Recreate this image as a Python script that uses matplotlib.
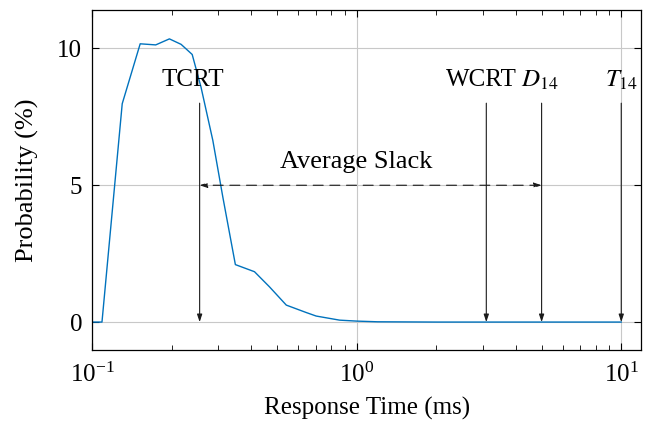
#!/usr/bin/env python3
"""Response-time distribution with TCRT / WCRT / deadline / period markers."""

import matplotlib
import matplotlib.pyplot as plt

matplotlib.use("Agg")

plt.rcParams["font.family"] = ["Liberation Serif", "DejaVu Serif"]
plt.rcParams["mathtext.fontset"] = "stix"

# Response-time distribution (ms, %)
resp_time = [0.09, 0.109, 0.130, 0.152, 0.174, 0.196, 0.217, 0.239, 0.258,
             0.286, 0.312, 0.348, 0.411, 0.468, 0.542, 0.644, 0.703, 0.862,
             1.0, 1.2, 2.0, 5.0, 10.0]
prob = [0.0, 0.0, 7.98, 10.17, 10.13, 10.35, 10.15, 9.78, 8.59,
        6.64, 4.57, 2.10, 1.84, 1.29, 0.62, 0.35, 0.22, 0.07,
        0.035, 0.01, 0.0, 0.0, 0.0]

marker_x = [0.255, 3.09, 5.0, 10.0]
marker_labels = ["TCRT", "WCRT", "$D_{14}$", "$T_{14}$"]
label_x = [0.24, 2.95, 4.92, 10.0]
arrow_top = 8.0
label_y = 8.85

slack_start = 0.255
slack_end = 5.0
slack_y = 5.0
slack_label = "Average Slack"

FS = 18

fig, ax = plt.subplots(figsize=(6.53, 4.23), dpi=100)
fig.subplots_adjust(left=0.141, right=0.982, top=0.976, bottom=0.172)

ax.plot(resp_time, prob, color="#0072BD", lw=1.0)

head = "-|>,head_length=0.45,head_width=0.15"
for xm, xl, lab in zip(marker_x, label_x, marker_labels):
    ax.annotate("", xy=(xm, 0), xytext=(xm, arrow_top),
                arrowprops=dict(arrowstyle=head, color="#1a1a1a", lw=0.8,
                                shrinkA=0, shrinkB=0))
    ax.text(xl, label_y, lab, ha="center", va="center", fontsize=FS)

ax.annotate("", xy=(slack_start, slack_y), xytext=(slack_end, slack_y),
            arrowprops=dict(arrowstyle="<|-|>,head_length=0.45,head_width=0.15",
                            color="#1a1a1a", lw=0.8, ls=(0, (9, 6)),
                            shrinkA=0, shrinkB=0))
ax.text(1.0, 5.85, slack_label, ha="center", va="center", fontsize=FS + 1)

ax.set_xscale("log")
ax.set_xlim(0.1, 11.9)
ax.set_ylim(-1.03, 11.4)
ax.set_yticks([0, 5, 10])
ax.grid(True, which="major", color="#c8c8c8", lw=0.8)
ax.set_axisbelow(True)
ax.tick_params(which="both", direction="in", top=True, right=True, labelsize=FS)
ax.tick_params(axis="y", which="major", pad=7)
ax.tick_params(axis="x", which="major", pad=9)
ax.tick_params(which="major", length=5)
ax.tick_params(which="minor", length=3.5)
ax.set_xlabel("Response Time (ms)", fontsize=FS, labelpad=7)
ax.set_ylabel("Probability (%)", fontsize=FS + 1, labelpad=13)
for sp in ax.spines.values():
    sp.set_linewidth(0.9)

fig.savefig("out.png", dpi=100)
